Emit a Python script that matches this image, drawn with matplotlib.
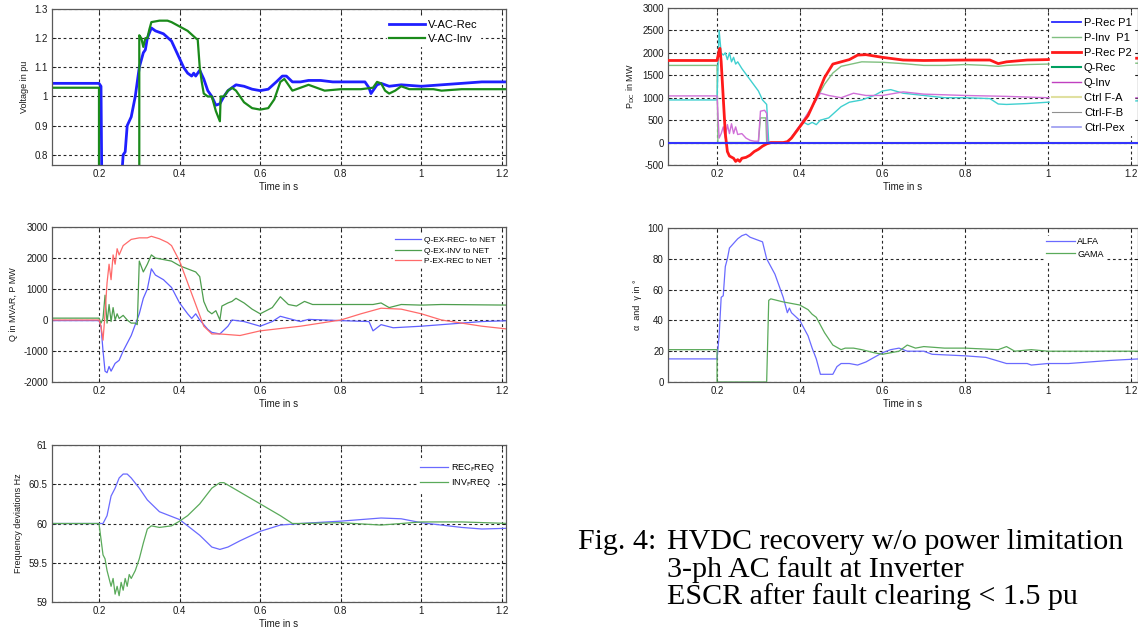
import matplotlib
matplotlib.use('Agg')
import numpy as np
from matplotlib import pyplot as plt

# ---- panel 1: AC voltages (pu) ----
v_rec_t = [0.08, 0.2, 0.205, 0.207, 0.255, 0.26, 0.265, 0.27, 0.28, 0.29, 0.30, 0.31, 0.315, 0.32, 0.33, 0.34,
           0.36, 0.38, 0.39, 0.40, 0.41, 0.42, 0.43, 0.435, 0.44, 0.45, 0.46, 0.47, 0.48, 0.49, 0.50, 0.51,
           0.52, 0.53, 0.54, 0.56, 0.58, 0.60, 0.62, 0.64, 0.655, 0.665, 0.68, 0.70, 0.72, 0.75, 0.78, 0.80,
           0.86, 0.87, 0.875, 0.88, 0.89, 0.90, 0.92, 0.95, 1.0, 1.05, 1.1, 1.15, 1.22]
v_rec = [1.045, 1.045, 1.035, 0.70, 0.70, 0.80, 0.81, 0.90, 0.93, 1.0, 1.10, 1.15, 1.16, 1.20, 1.235, 1.225,
         1.215, 1.19, 1.16, 1.13, 1.10, 1.08, 1.07, 1.08, 1.07, 1.09, 1.06, 1.02, 1.0, 0.97, 0.975, 1.0,
         1.02, 1.03, 1.04, 1.035, 1.025, 1.02, 1.025, 1.05, 1.07, 1.07, 1.05, 1.05, 1.055, 1.055, 1.05, 1.05,
         1.05, 1.03, 1.01, 1.02, 1.04, 1.045, 1.035, 1.04, 1.035, 1.04, 1.045, 1.05, 1.05]
v_inv_t = [0.08, 0.2, 0.2, 0.3, 0.3, 0.305, 0.31, 0.315, 0.32, 0.325, 0.33, 0.35, 0.37, 0.38, 0.40, 0.42,
           0.44, 0.445, 0.45, 0.455, 0.46, 0.47, 0.48, 0.49, 0.50, 0.502, 0.51, 0.52, 0.53, 0.54, 0.55, 0.56,
           0.58, 0.60, 0.62, 0.635, 0.65, 0.66, 0.67, 0.68, 0.70, 0.72, 0.74, 0.76, 0.80, 0.85, 0.88, 0.89,
           0.90, 0.91, 0.92, 0.935, 0.95, 0.97, 1.0, 1.03, 1.05, 1.1, 1.22]
v_inv = [1.03, 1.03, 0.70, 0.70, 1.21, 1.20, 1.17, 1.20, 1.20, 1.23, 1.255, 1.26, 1.26, 1.255, 1.24, 1.225,
         1.20, 1.195, 1.10, 1.05, 1.01, 1.0, 1.0, 0.95, 0.915, 1.0, 1.0, 1.02, 1.03, 1.02, 1.0, 0.98,
         0.96, 0.955, 0.96, 0.99, 1.05, 1.06, 1.04, 1.02, 1.03, 1.04, 1.03, 1.02, 1.025, 1.025, 1.03, 1.05,
         1.045, 1.02, 1.01, 1.02, 1.035, 1.025, 1.025, 1.025, 1.02, 1.025, 1.025]

# ---- panel 2: DC power / reactive power (MW) ----
p_rec1_t = [0.08, 1.22]
p_rec1 = [0, 0]
p_inv1_t = [0.08, 0.2, 0.202, 0.30, 0.305, 0.318, 0.32, 0.37, 0.40, 0.43, 0.46, 0.48, 0.50, 0.55, 0.60,
            0.65, 0.70, 0.75, 0.80, 0.85, 0.88, 0.90, 0.95, 1.0, 1.05, 1.22]
p_inv1 = [1720, 1720, 0, 0, 550, 550, 0, 0, 350, 800, 1300, 1550, 1700, 1800, 1790,
          1760, 1720, 1720, 1740, 1720, 1700, 1720, 1740, 1750, 1760, 1770]
p_rec2_t = [0.08, 0.2, 0.205, 0.207, 0.21, 0.215, 0.22, 0.225, 0.23, 0.24, 0.245, 0.25, 0.255, 0.26, 0.27,
            0.28, 0.29, 0.30, 0.31, 0.32, 0.33, 0.36, 0.37, 0.38, 0.40, 0.42, 0.44, 0.46, 0.48, 0.50, 0.52,
            0.54, 0.56, 0.60, 0.65, 0.70, 0.80, 0.86, 0.88, 0.90, 0.95, 1.0, 1.05, 1.22]
p_rec2 = [1830, 1830, 2050, 2100, 1800, 1000, 200, -200, -300, -350, -420, -380, -420, -350, -330,
          -280, -200, -150, -80, -30, 0, 0, 20, 100, 350, 600, 1000, 1450, 1750, 1800, 1850,
          1950, 1960, 1900, 1840, 1830, 1840, 1840, 1760, 1800, 1840, 1850, 1880, 1880]
q_rec_t = [0.08, 0.2, 0.205, 0.21, 0.215, 0.22, 0.225, 0.23, 0.235, 0.24, 0.245, 0.25, 0.26, 0.28, 0.30,
           0.31, 0.32, 0.325, 0.37, 0.40, 0.41, 0.42, 0.43, 0.44, 0.45, 0.47, 0.50, 0.52, 0.55, 0.58, 0.60,
           0.62, 0.65, 0.70, 0.75, 0.80, 0.86, 0.88, 0.90, 0.95, 1.0, 1.05, 1.22]
q_rec = [950, 950, 2500, 2000, 1950, 2000, 1850, 2000, 1800, 1900, 1750, 1800, 1650, 1400, 1150,
         950, 850, 0, 0, 350, 450, 400, 450, 400, 500, 550, 800, 900, 950, 1050, 1150,
         1180, 1100, 1050, 1000, 1000, 980, 860, 850, 870, 900, 900, 930]
q_inv_t = [0.08, 0.2, 0.205, 0.21, 0.215, 0.22, 0.225, 0.23, 0.235, 0.24, 0.245, 0.25, 0.26, 0.27, 0.28,
           0.29, 0.30, 0.305, 0.315, 0.32, 0.322, 0.37, 0.40, 0.43, 0.45, 0.47, 0.50, 0.53, 0.56, 0.60,
           0.65, 0.70, 0.80, 0.90, 1.0, 1.22]
q_inv = [1040, 1040, 100, 200, 350, 100, 400, 200, 420, 200, 350, 180, 200, 100, 50,
         30, 30, 700, 720, 650, 0, 0, 380, 800, 1100, 1050, 1000, 1100, 1050, 1050,
         1130, 1080, 1050, 1030, 1000, 1000]
ctrl_t = [0.08, 1.22]
ctrl_fa = [0, 0]
ctrl_fb = [0, 0]
ctrl_pex = [0, 0]

# ---- panel 3: exchange with network ----
q_ex_rec_t = [0.08, 0.2, 0.205, 0.21, 0.215, 0.22, 0.225, 0.23, 0.24, 0.25, 0.26, 0.28, 0.30, 0.31, 0.32,
              0.33, 0.34, 0.36, 0.38, 0.40, 0.42, 0.43, 0.44, 0.45, 0.47, 0.48, 0.50, 0.52, 0.53, 0.56,
              0.60, 0.63, 0.65, 0.67, 0.70, 0.72, 0.80, 0.87, 0.88, 0.90, 0.93, 1.0, 1.05, 1.1, 1.15, 1.22]
q_ex_rec = [-20, -20, -200, -1000, -1650, -1700, -1500, -1650, -1400, -1300, -1000, -500, 200, 700, 1000,
            1650, 1450, 1300, 1050, 550, 200, 50, 200, 0, -300, -400, -450, -200, 0, -50,
            -200, -50, 120, 50, -50, 20, -20, -50, -350, -150, -250, -200, -150, -100, -50, -20]
q_ex_inv_t = [0.08, 0.2, 0.205, 0.21, 0.215, 0.22, 0.225, 0.23, 0.235, 0.24, 0.245, 0.25, 0.26, 0.27,
              0.28, 0.29, 0.295, 0.30, 0.31, 0.32, 0.33, 0.34, 0.38, 0.40, 0.42, 0.44, 0.45, 0.46, 0.47,
              0.48, 0.49, 0.50, 0.505, 0.52, 0.53, 0.54, 0.56, 0.58, 0.60, 0.63, 0.65, 0.67, 0.69, 0.71,
              0.73, 0.80, 0.88, 0.90, 0.92, 0.95, 1.0, 1.05, 1.22]
q_ex_inv = [60, 60, -100, 50, 800, -100, 500, -50, 400, 0, 200, 50, 150, 0,
            -100, -100, -150, 1900, 1550, 1800, 2100, 2000, 1900, 1750, 1650, 1550, 1400, 600, 300,
            200, 300, 0, 450, 550, 600, 700, 550, 350, 200, 400, 750, 500, 450, 600,
            500, 500, 500, 550, 400, 500, 480, 500, 480]
p_ex_rec_t = [0.08, 0.2, 0.205, 0.21, 0.215, 0.22, 0.225, 0.23, 0.235, 0.24, 0.245, 0.25, 0.26, 0.27,
              0.28, 0.30, 0.32, 0.33, 0.35, 0.37, 0.38, 0.40, 0.42, 0.44, 0.46, 0.48, 0.50, 0.55, 0.60,
              0.70, 0.80, 0.85, 0.90, 0.95, 1.0, 1.05, 1.1, 1.15, 1.22]
p_ex_rec = [0, 0, -200, -650, 200, 1200, 1800, 1300, 2100, 1800, 2300, 2100, 2400, 2500,
            2600, 2650, 2650, 2700, 2620, 2500, 2400, 1900, 1200, 500, -200, -450, -450, -500, -350,
            -200, 0, 200, 380, 350, 200, 0, -100, -200, -300]

# ---- panel 4: firing / extinction angles (deg) ----
alfa_t = [0.08, 0.2, 0.205, 0.21, 0.215, 0.22, 0.225, 0.23, 0.24, 0.25, 0.26, 0.27, 0.28, 0.30, 0.31,
          0.32, 0.34, 0.36, 0.37, 0.375, 0.38, 0.40, 0.41, 0.42, 0.43, 0.44, 0.45, 0.48, 0.49, 0.50,
          0.52, 0.54, 0.56, 0.58, 0.60, 0.62, 0.64, 0.66, 0.70, 0.72, 0.80, 0.85, 0.90, 0.95, 0.96,
          1.0, 1.05, 1.1, 1.15, 1.22]
alfa = [15, 15, 30, 55, 56, 75, 80, 87, 90, 93, 95, 96, 94, 92, 91,
        80, 70, 55, 45, 48, 45, 40, 35, 30, 22, 15, 5, 5, 10, 12,
        12, 11, 13, 16, 19, 21, 22, 20, 20, 18, 17, 16, 12, 12, 11,
        12, 12, 13, 14, 15]
gama_t = [0.08, 0.2, 0.2, 0.32, 0.325, 0.33, 0.36, 0.38, 0.40, 0.42, 0.43, 0.44, 0.46, 0.48, 0.50,
          0.51, 0.53, 0.55, 0.58, 0.60, 0.62, 0.64, 0.66, 0.68, 0.70, 0.75, 0.80, 0.88, 0.90, 0.92,
          0.96, 1.0, 1.22]
gama = [21, 21, 0, 0, 53, 54, 52, 51, 50, 47, 44, 42, 32, 24, 21,
        22, 22, 21, 19, 18, 19, 20, 24, 22, 23, 22, 22, 21, 23, 20,
        21, 20, 20]

# ---- panel 5: frequencies (Hz) ----
rec_f_t = [0.08, 0.21, 0.22, 0.23, 0.24, 0.25, 0.26, 0.27, 0.28, 0.30, 0.32, 0.35, 0.40, 0.45, 0.48,
           0.50, 0.52, 0.55, 0.60, 0.65, 0.70, 0.80, 0.90, 0.95, 1.0, 1.05, 1.1, 1.15, 1.22]
rec_f = [60, 60, 60.1, 60.35, 60.45, 60.58, 60.63, 60.63, 60.58, 60.45, 60.3, 60.15, 60.05, 59.85, 59.7,
         59.67, 59.7, 59.78, 59.9, 59.98, 60.0, 60.03, 60.07, 60.06, 60.01, 59.98, 59.95, 59.93, 59.94]
inv_f_t = [0.08, 0.2, 0.205, 0.21, 0.215, 0.22, 0.225, 0.23, 0.235, 0.24, 0.245, 0.25, 0.255, 0.26,
           0.265, 0.27, 0.275, 0.28, 0.29, 0.30, 0.31, 0.32, 0.33, 0.35, 0.38, 0.40, 0.42, 0.45, 0.48,
           0.50, 0.51, 0.55, 0.60, 0.65, 0.68, 0.70, 0.80, 0.90, 1.0, 1.1, 1.22]
inv_f = [60, 60, 59.8, 59.6, 59.55, 59.4, 59.3, 59.2, 59.3, 59.1, 59.2, 59.08, 59.25, 59.15,
         59.3, 59.2, 59.35, 59.3, 59.4, 59.55, 59.75, 59.93, 59.97, 59.95, 59.97, 60.03, 60.1, 60.25, 60.45,
         60.52, 60.52, 60.4, 60.25, 60.1, 60.0, 60.0, 60.01, 59.98, 60.02, 60.02, 60.0]

time_ticks = [0.2, 0.4, 0.6, 0.8, 1.0, 1.2]
time_labels = ['0.2', '0.4', '0.6', '0.8', '1', '1.2']

caption_head = 'Fig. 4:'
caption_lines = ['HVDC recovery w/o power limitation',
                 '3-ph AC fault at Inverter',
                 'ESCR after fault clearing < 1.5 pu']

W, H = 1138, 630
plt.rcParams['font.family'] = ['Liberation Sans', 'DejaVu Sans']
fig = plt.figure(figsize=(W / 100, H / 100), dpi=100)


def px_axes(x0, y0, x1, y1):
    return fig.add_axes([x0 / W, 1 - y1 / H, (x1 - x0) / W, (y1 - y0) / H])


def style(ax, xlim, ylim, yticks, ylabels, ylab):
    ax.set_xlim(*xlim)
    ax.set_ylim(*ylim)
    ax.set_xticks(time_ticks)
    ax.set_xticklabels(time_labels)
    ax.set_yticks(yticks)
    ax.set_yticklabels(ylabels)
    ax.tick_params(direction='in', length=3, width=0.6, labelsize=7, pad=3, colors='0.1',
                   top=True, right=True)
    ax.grid(True, color='0.15', linestyle=(0, (2.5, 2.5)), linewidth=0.8)
    for s in ax.spines.values():
        s.set_color('0.35')
        s.set_linewidth(0.9)
    ax.set_xlabel('Time in s', fontsize=7, labelpad=2, color='0.1')
    ax.set_ylabel(ylab, fontsize=6.5, labelpad=4, color='0.1')


def leg(ax, size, **kw):
    opts = dict(fontsize=size, frameon=True, fancybox=False, framealpha=1,
                edgecolor='white', facecolor='white', borderpad=0.2,
                labelspacing=0.35, handlelength=3.2, handletextpad=0.3)
    opts.update(kw)
    return ax.legend(**opts)


left_x = (0.0834, 1.21)
right_x = (0.0814, 1.218)

# top-left
ax1 = px_axes(52, 9, 506, 165)
ax1.plot(v_rec_t, v_rec, color='#1f1fff', lw=2.0, label='V-AC-Rec')
ax1.plot(v_inv_t, v_inv, color='#1a8a1a', lw=1.6, label='V-AC-Inv')
style(ax1, left_x, (0.765, 1.3), [0.8, 0.9, 1.0, 1.1, 1.2, 1.3],
      ['0.8', '0.9', '1', '1.1', '1.2', '1.3'], 'Voltage in pu')
leg(ax1, 8, loc='upper right', bbox_to_anchor=(0.955, 0.98))

# top-right
ax2 = px_axes(668, 8, 1138, 165)
ax2.plot(p_rec1_t, p_rec1, color='#2a2aff', lw=1.3, label='P-Rec P1', zorder=5)
ax2.plot(p_inv1_t, p_inv1, color='#80c080', lw=1.0, label='P-Inv  P1')
ax2.plot(q_rec_t, q_rec, color='#40d0d0', lw=1.0, label='_nolegend_')
ax2.plot(q_inv_t, q_inv, color='#d070d8', lw=1.0, label='_nolegend_')
ax2.plot(p_rec2_t, p_rec2, color='#ff1a1a', lw=2.0, label='P-Rec P2', zorder=4)
ax2.plot(ctrl_t, ctrl_fa, color='#00a060', lw=1.5, label='Q-Rec')
ax2.plot([], [], color='#c040c0', lw=1.0, label='Q-Inv')
ax2.plot(ctrl_t, ctrl_fa, color='#e0e0a0', lw=1.5, label='Ctrl F-A')
ax2.plot(ctrl_t, ctrl_fb, color='#909090', lw=0.8, label='Ctrl-F-B')
ax2.plot(ctrl_t, ctrl_pex, color='#9a9af0', lw=1.2, label='Ctrl-Pex')
style(ax2, right_x, (-500, 3000), list(range(-500, 3001, 500)),
      [str(v) for v in range(-500, 3001, 500)], 'P$_{\\rm DC}$ in MW')
leg(ax2, 8, loc='upper left', bbox_to_anchor=(0.8, 0.985), labelspacing=0.45, handlelength=2.6)

# middle-left
ax3 = px_axes(52, 227, 506, 382)
ax3.plot(q_ex_rec_t, q_ex_rec, color='#6060ff', lw=0.9, label='Q-EX-REC- to NET')
ax3.plot(q_ex_inv_t, q_ex_inv, color='#4e9e4e', lw=0.9, label='Q-EX-INV to NET')
ax3.plot(p_ex_rec_t, p_ex_rec, color='#ff6a6a', lw=0.9, label='P-EX-REC to NET')
style(ax3, left_x, (-2000, 3000), list(range(-2000, 3001, 1000)),
      [str(v) for v in range(-2000, 3001, 1000)], 'Q in MVAR, P MW')
leg(ax3, 6, loc='upper right', bbox_to_anchor=(0.99, 0.98))

# middle-right
ax4 = px_axes(668, 228, 1138, 382)
ax4.plot(alfa_t, alfa, color='#6a6aff', lw=0.9, label='ALFA')
ax4.plot(gama_t, gama, color='#5aaa5a', lw=0.9, label='GAMA')
style(ax4, right_x, (0, 100), [0, 20, 40, 60, 80, 100],
      ['0', '20', '40', '60', '80', '100'], '\u03b1  and  \u03b3 in \u00b0')
leg(ax4, 6.5, loc='upper left', bbox_to_anchor=(0.79, 0.98))

# bottom-left
ax5 = px_axes(52, 445, 506, 602)
ax5.plot(rec_f_t, rec_f, color='#6a6aff', lw=0.9, label='REC$_{\\rm F}$REQ')
ax5.plot(inv_f_t, inv_f, color='#5aaa5a', lw=0.9, label='INV$_{\\rm F}$REQ')
style(ax5, left_x, (59, 61), [59, 59.5, 60, 60.5, 61],
      ['59', '59.5', '60', '60.5', '61'], 'Frequency deviations Hz')
leg(ax5, 6.5, loc='upper right', bbox_to_anchor=(0.99, 0.93))

# caption
cap_font = dict(family=['Liberation Serif', 'DejaVu Serif'], fontsize=21.6, color='black', va='center')
fig.text(578 / W, 1 - 542 / H, caption_head, ha='left', **cap_font)
for i, line in enumerate(caption_lines):
    fig.text(667 / W, 1 - (542 + 27.5 * i) / H, line, ha='left', **cap_font)

fig.savefig('out.png', dpi=100, facecolor='white')
